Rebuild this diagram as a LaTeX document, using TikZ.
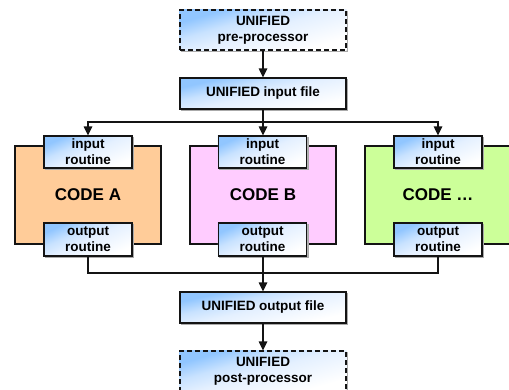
\documentclass[tikz,border=0pt]{standalone}
\usepackage{fontspec}
\setmainfont{Liberation Sans}
\usetikzlibrary{arrows.meta}
\definecolor{gradblue}{RGB}{145,198,255}
\definecolor{gradlight}{RGB}{200,226,255}
\definecolor{gradmid}{RGB}{228,240,255}
\definecolor{codeorange}{RGB}{255,204,153}
\definecolor{codepink}{RGB}{255,204,255}
\definecolor{codegreen}{RGB}{204,255,153}
\definecolor{edge}{RGB}{20,20,20}
\definecolor{shadowgray}{RGB}{170,170,170}
\pgfdeclarelayer{base}
\pgfdeclarelayer{glow}
\pgfsetlayers{base,glow,main}
% blue in one corner, fading to white at the opposite one
\pgfdeclareverticalshading{cornerglow}{100bp}{%
  color(0bp)=(white); color(25bp)=(white); color(50bp)=(gradmid);
  color(62bp)=(gradlight); color(75bp)=(gradblue); color(100bp)=(gradblue)}
\makeatletter
% fill the area of a named node with the corner glow, stretched to its size
\newcommand\blueglow[1]{%
  \pgfpointanchor{#1}{north west}\xdef\glx{\the\pgf@x}\xdef\gly{\the\pgf@y}%
  \pgfpointanchor{#1}{south east}\xdef\ghx{\the\pgf@x}\xdef\ghy{\the\pgf@y}%
  \fill[shadowgray] ([xshift=1.6pt,yshift=-1.6pt]#1.north west)
    rectangle ([xshift=1.6pt,yshift=-1.6pt]#1.south east);
  \begin{scope}[transform canvas={shift={(\glx,\gly)},
      xscale={(\ghx-\glx)/100}, yscale={(\gly-\ghy)/100}}]
    \shade[shading=cornerglow, shading angle=50] (0pt,0pt) rectangle (100pt,-100pt);
  \end{scope}}
\makeatother
\tikzset{
  gradbox/.style={draw=edge, line width=1.3pt, align=center, inner sep=0pt,
    font=\fontsize{13.5}{16}\selectfont\bfseries},
  filebox/.style={gradbox, minimum width=166pt, minimum height=31pt},
  procbox/.style={gradbox, dashed, dash pattern=on 5pt off 3pt,
    minimum width=166pt, minimum height=40pt},
  routinebox/.style={gradbox, minimum width=88pt, minimum height=32pt},
  outroutinebox/.style={routinebox, minimum height=33pt},
  codebox/.style={draw=edge, line width=1.3pt, minimum width=146pt, minimum height=98pt,
    inner sep=0pt, font=\fontsize{17}{20}\selectfont\bfseries},
  link/.style={draw=edge, line width=1.4pt},
  arr/.style={link, -{Triangle[length=9pt,width=8.5pt]}}
}
\begin{document}
\begin{tikzpicture}[x=1pt, y=-1pt]
  \useasboundingbox (0,0) rectangle (509,389);

  % the three solver codes
  \begin{pgfonlayer}{base}
    \fill[white] (0,0) rectangle (509,389);
    \node[codebox, fill=codeorange] (codeA) at (88,195)  {CODE A};
    \node[codebox, fill=codepink]   (codeB) at (263,195) {CODE B};
    \node[codebox, fill=codegreen]  (codeC) at (438,195) {CODE \dots};
  \end{pgfonlayer}

  % common files and tools
  \node[procbox] (pre)     at (263,30)    {UNIFIED\\pre-processor};
  \node[filebox] (infile)  at (263,93.5)  {UNIFIED input file};
  \node[filebox] (outfile) at (263,307.5) {UNIFIED output file};
  \node[procbox] (post)    at (263,371)   {UNIFIED\\post-processor};

  % interface routines of each code
  \node[routinebox]    (inA)  at (88,152)      {input\\routine};
  \node[routinebox]    (inB)  at (262.5,152)   {input\\routine};
  \node[routinebox]    (inC)  at (438,152)     {input\\routine};
  \node[outroutinebox] (outA) at (88,239.5)    {output\\routine};
  \node[outroutinebox] (outB) at (262.5,239.5) {output\\routine};
  \node[outroutinebox] (outC) at (438,239.5)   {output\\routine};

  % shaded backgrounds of the boxes
  \begin{pgfonlayer}{glow}
    \foreach \b in {pre,infile,outfile,post,inA,inB,inC,outA,outB,outC}{\blueglow{\b}}
  \end{pgfonlayer}

  % branch and merge points
  \coordinate (split) at (263,122);
  \coordinate (merge) at (263,273);

  % connectors
  \draw[arr] (pre.south) -- (infile.north);
  \draw[link] (infile.south) -- (split);
  \draw[arr] (split) -| (inA.north);
  \draw[arr] (split) -| (inC.north);
  \draw[arr] (split) -- (split |- inB.north);

  \draw[link] (outA.south) |- (merge);
  \draw[link] (outC.south) |- (merge);
  \draw[arr] (outB.south -| merge) -- (outfile.north);
  \draw[arr] (outfile.south) -- (post.north);
\end{tikzpicture}
\end{document}
